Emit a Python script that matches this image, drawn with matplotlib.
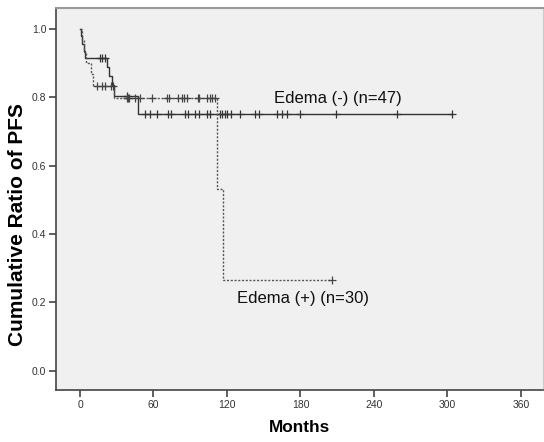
import numpy as np
import matplotlib.pyplot as plt

plt.rcParams['font.family'] = ['Liberation Sans', 'DejaVu Sans']

# Edema (-) n=47 : step times (months) and survival after each step
neg_times = [0, 1, 2, 3, 4, 22, 24, 26, 28, 47]
neg_surv = [1.0, 0.979, 0.957, 0.936, 0.915, 0.888, 0.862, 0.835, 0.805, 0.750]
neg_censor = [16, 18, 20, 38, 53, 57, 63, 72, 74, 86, 88, 94, 97, 104, 106,
              114, 116, 118, 120, 123, 131, 143, 146, 161, 165, 169, 180,
              209, 259, 304]

# Edema (+) n=30
pos_times = [0, 2, 3, 5, 9, 11, 28, 112, 117]
pos_surv = [1.0, 0.967, 0.933, 0.900, 0.867, 0.833, 0.797, 0.531, 0.266]
pos_censor = [14, 18, 20, 25, 27, 38, 39, 40, 45, 49, 59, 71, 73, 80, 83,
              85, 87, 96, 97, 104, 106, 108, 110, 206]


def surv_at(times, surv, t):
    idx = np.searchsorted(times, t, side='right') - 1
    return np.asarray(surv)[idx]


W, H = 544, 442
fig = plt.figure(figsize=(W / 100, H / 100), dpi=100)
ax = fig.add_axes([56 / W, 1 - 390 / H, (543 - 56) / W, (390 - 8.5) / H])
ax.set_facecolor('#f0f0f0')

# solid line: edema (-)
t_end = max(neg_censor)
ax.step(neg_times + [t_end], neg_surv + [neg_surv[-1]], where='post',
        color='#333333', lw=1.0)
ax.plot(neg_censor, surv_at(neg_times, neg_surv, neg_censor), ls='none',
        marker='+', ms=6, mew=0.9, color='#333333')

# dotted line: edema (+)
t_end = max(pos_censor)
ax.step(pos_times + [t_end], pos_surv + [pos_surv[-1]], where='post',
        color='#555555', lw=1.0, ls=(0, (1.5, 1.2)))
ax.plot(pos_censor, surv_at(pos_times, pos_surv, pos_censor), ls='none',
        marker='+', ms=6, mew=0.9, color='#444444')

ax.text(158, 0.784, 'Edema (-) (n=47)', fontsize=12, va='baseline', color='#111111')
ax.text(128.5, 0.197, 'Edema (+) (n=30)', fontsize=12, va='baseline', color='#111111')

ax.set_xlim(-19.6, 378)
ax.set_ylim(-0.057, 1.06)
ax.set_xticks(np.arange(0, 361, 60))
ax.set_yticks(np.arange(0, 1.01, 0.2))
ax.set_yticklabels([f'{v:.1f}' for v in np.arange(0, 1.01, 0.2)])
ax.tick_params(labelsize=7.5, labelcolor='#333333', color='#444444',
               length=5, width=1.2, pad=2)

ax.spines['left'].set_color('#444444')
ax.spines['bottom'].set_color('#444444')
ax.spines['left'].set_linewidth(1.2)
ax.spines['bottom'].set_linewidth(1.2)
ax.spines['top'].set_color('#999999')
ax.spines['top'].set_linewidth(1.5)
ax.spines['right'].set_color('#cccccc')

fig.text(300 / W, 1 - 432.3 / H, 'Months', fontsize=12.4, fontweight='bold',
         ha='center', va='baseline')
fig.text(23 / W, 1 - 224.5 / H, 'Cumulative Ratio of PFS', fontsize=15,
         fontweight='bold', rotation=90, rotation_mode='anchor',
         ha='center', va='baseline')

fig.savefig('out.png', dpi=100)
